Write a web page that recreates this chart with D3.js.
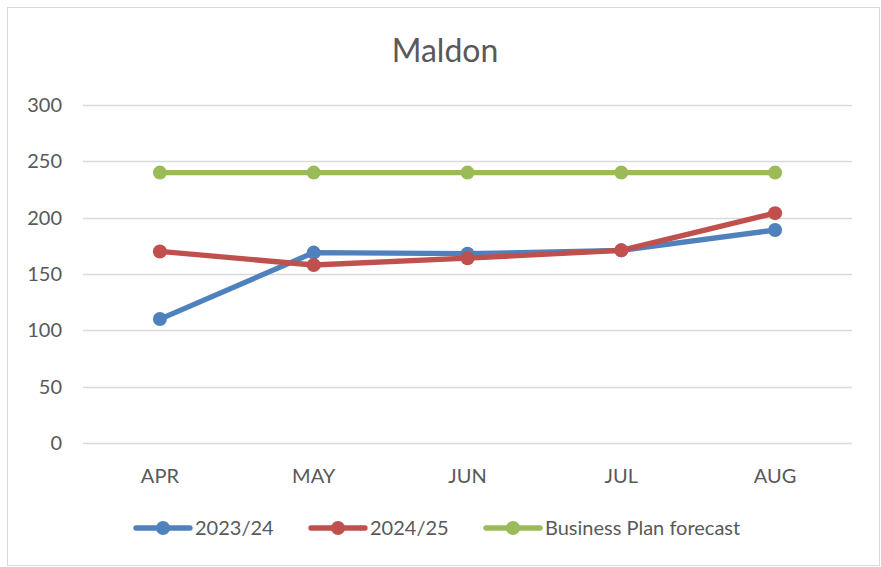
<!DOCTYPE html>
<html>
<head>
<meta charset="utf-8">
<script src="https://cdn.jsdelivr.net/npm/d3@7"></script>
<style>
  body { margin: 0; background: #fff; }
  text { font-family: Lato, "Open Sans", sans-serif; fill: #595959; }
</style>
</head>
<body>
<svg id="chart" width="881" height="567"></svg>
<script>
// data
var months = ['APR', 'MAY', 'JUN', 'JUL', 'AUG'];
var fy2324 = [110, 169, 168, 171, 189];
var fy2425 = [170, 158, 164, 171, 204];
var forecast = [240, 240, 240, 240, 240];
var seriesNames = ['2023/24', '2024/25', 'Business Plan forecast'];
var seriesColors = ['#4f81bd', '#c0504d', '#9bbb59'];
var yTicks = [0, 50, 100, 150, 200, 250, 300];

var svg = d3.select('#chart');

// chart border
svg.append('rect')
  .attr('x', 7.5).attr('y', 7.5)
  .attr('width', 872).attr('height', 558)
  .attr('fill', '#fff').attr('stroke', '#d9d9d9');

// title
svg.append('text')
  .attr('x', 445).attr('y', 62)
  .attr('text-anchor', 'middle')
  .style('font-size', '32px')
  .text('Maldon');

var x = d3.scaleBand().domain(months).range([83, 852]);
var y = d3.scaleLinear().domain([0, 300]).range([443, 105]);

// gridlines
svg.append('g').selectAll('line')
  .data(yTicks)
  .enter().append('line')
  .attr('x1', 83).attr('x2', 852)
  .attr('y1', function(d) { return Math.round(y(d)) + 0.5; })
  .attr('y2', function(d) { return Math.round(y(d)) + 0.5; })
  .attr('stroke', '#d9d9d9').attr('stroke-width', 1.5);

// y axis labels
var yAxis = svg.append('g')
  .attr('transform', 'translate(62,0)')
  .call(d3.axisLeft(y).tickValues(yTicks).tickSize(0).tickPadding(0));
yAxis.select('.domain').remove();
yAxis.selectAll('text').style('font-size', '20px').attr('fill', '#595959');

// x axis labels
var xAxis = svg.append('g')
  .attr('transform', 'translate(0,483)')
  .call(d3.axisBottom(x).tickSize(0).tickPadding(0));
xAxis.select('.domain').remove();
xAxis.selectAll('text').style('font-size', '20px').attr('fill', '#595959').attr('dy', 0);

// lines
var allSeries = [fy2324, fy2425, forecast];
var line = d3.line()
  .x(function(d, i) { return x(months[i]) + x.bandwidth() / 2; })
  .y(function(d) { return y(d); });

allSeries.forEach(function(vals, s) {
  var g = svg.append('g');
  g.append('path')
    .datum(vals)
    .attr('d', line)
    .attr('fill', 'none')
    .attr('stroke', seriesColors[s])
    .attr('stroke-width', 5.3)
    .attr('stroke-linecap', 'round')
    .attr('stroke-linejoin', 'round');
  g.selectAll('circle')
    .data(vals)
    .enter().append('circle')
    .attr('cx', function(d, i) { return x(months[i]) + x.bandwidth() / 2; })
    .attr('cy', function(d) { return y(d); })
    .attr('r', 7)
    .attr('fill', seriesColors[s]);
});

// legend
var legendX = [136, 311, 486];
var legend = svg.append('g');
seriesNames.forEach(function(name, s) {
  var lg = legend.append('g').attr('transform', 'translate(' + legendX[s] + ',528)');
  lg.append('line')
    .attr('x1', 0).attr('x2', 54).attr('y1', 0).attr('y2', 0)
    .attr('stroke', seriesColors[s]).attr('stroke-width', 5.3)
    .attr('stroke-linecap', 'round');
  lg.append('circle').attr('cx', 27).attr('cy', 0).attr('r', 7).attr('fill', seriesColors[s]);
  lg.append('text')
    .attr('x', 59).attr('y', 0).attr('dy', '0.35em')
    .style('font-size', '20px')
    .text(name);
});
</script>
</body>
</html>
